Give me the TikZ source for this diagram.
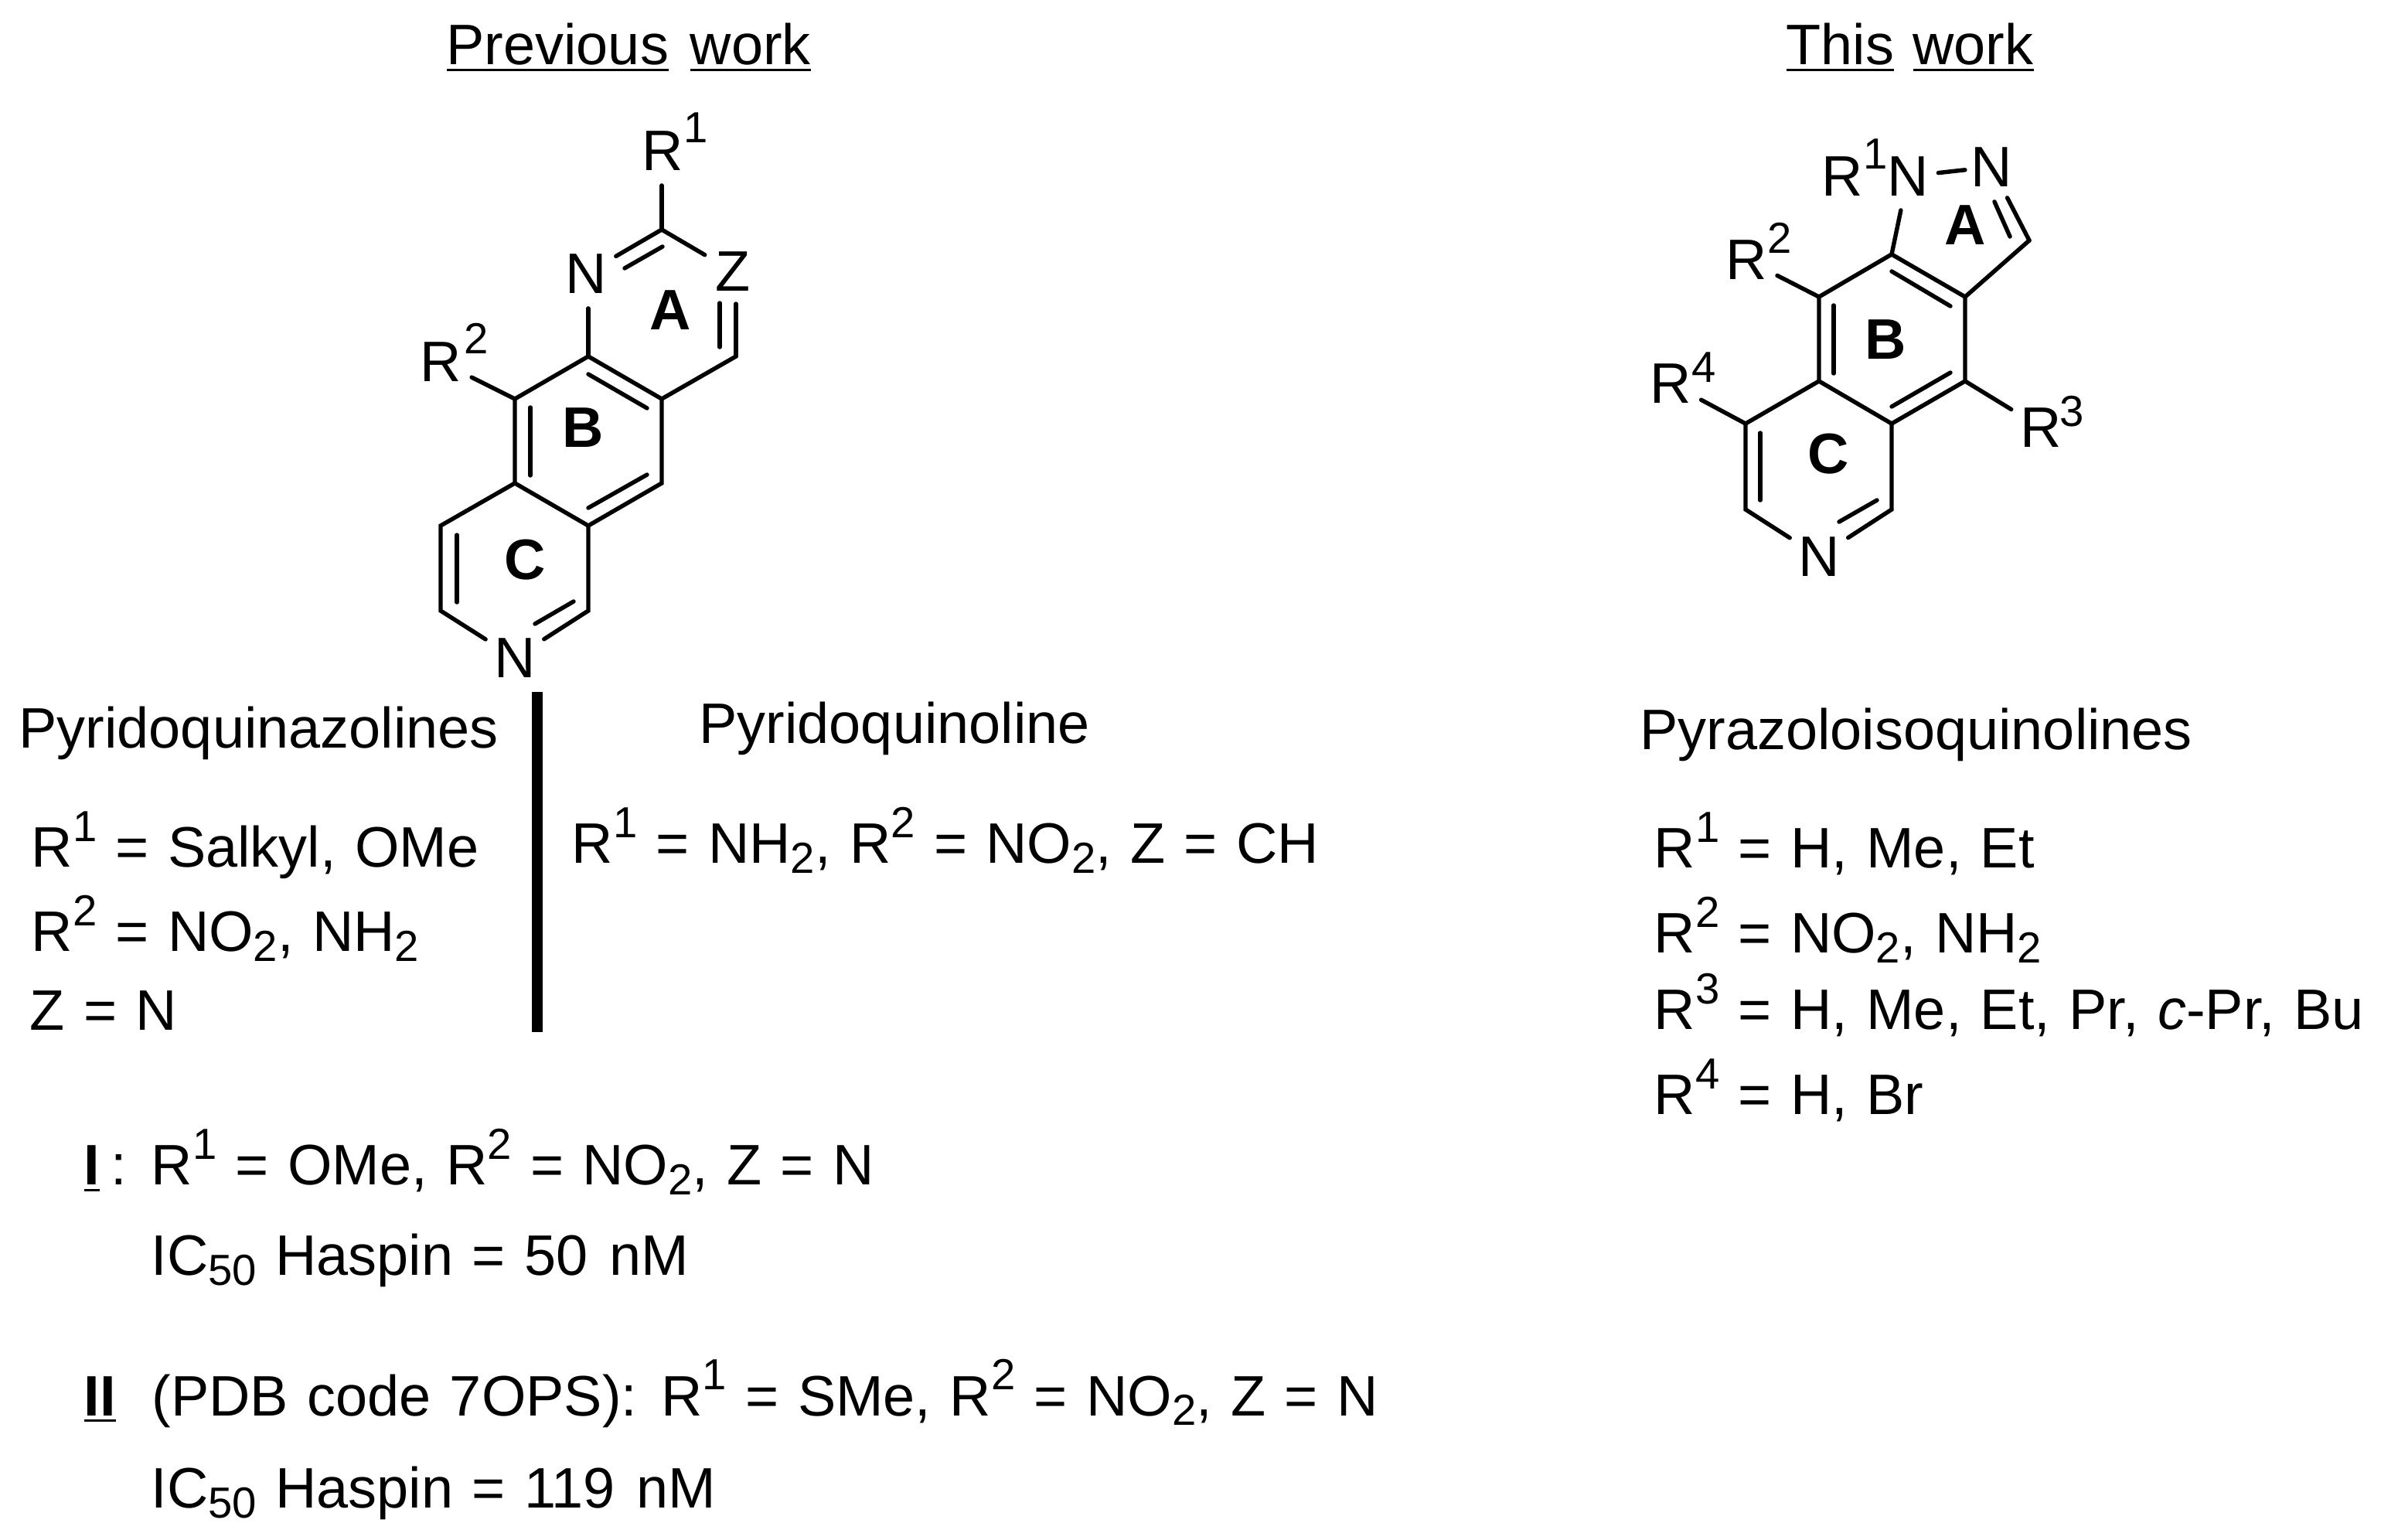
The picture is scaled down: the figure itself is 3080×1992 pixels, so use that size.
\documentclass[tikz,border=0pt]{standalone}
\usepackage{fontspec}
\setmainfont{Liberation Sans}
\usetikzlibrary{calc}

\newcommand{\upidx}[1]{\raisebox{9.5pt}{\fontsize{16}{16}\selectfont #1}}
\newcommand{\dnidx}[1]{\raisebox{-3.6pt}{\fontsize{16}{16}\selectfont #1}}
\newcommand{\ulword}[1]{\setbox0\hbox{#1}\rlap{\rule[-2.4pt]{\wd0}{1pt}}\box0\relax}

\tikzset{
  bond/.style={line width=1.55pt, line cap=round},
  divider/.style={line width=4pt},
  txt/.style={anchor=base west, inner sep=0pt, font=\fontsize{21}{25}\selectfont, execute at begin node={\spaceskip 0.33em\relax}},
  atom/.style={circle, inner sep=1.5pt, font=\fontsize{21}{25}\selectfont},
  ringname/.style={inner sep=0pt, font=\fontsize{21}{25}\selectfont\bfseries},
  atomidx/.style={inner sep=0pt, font=\fontsize{16}{16}\selectfont}
}

\begin{document}
\begin{tikzpicture}[x=0.01cm, y=-0.01cm]
  \useasboundingbox (0,0) rectangle (3080,1992);

  % Headings
  \node[txt] (prevhead) at (577,84) {\ulword{Previous}\hspace{1pt} \ulword{work}};
  \node[txt] (thishead) at (2310,84) {\ulword{This} \ulword{work}};

  % Left scaffold, ring vertices
  \coordinate (qc2) at (856,297);
  \coordinate (qc4) at (952,461);
  \coordinate (qc8a) at (761,461);
  \coordinate (qc4a) at (856,516);
  \coordinate (qc9) at (666,516);
  \coordinate (qc9a) at (666,625);
  \coordinate (qc5) at (856,625);
  \coordinate (qc5a) at (761,680);
  \coordinate (qc10) at (570,680);
  \coordinate (qc11) at (570,790);
  \coordinate (qc6) at (761,790);

  % Left scaffold, labels
  \node[atom] (qn1) at (758,354) {N};
  \node[atom] (qz) at (948,351) {Z};
  \node[atom] (qn2) at (666,851) {N};
  \node[atom] (qr1) at (857,195) {R};
  \node[atomidx] (qr1i) at (900,165) {1};
  \node[atom] (qr2) at (570,468) {R};
  \node[atomidx] (qr2i) at (616,438) {2};
  \node[ringname] (qra) at (867,401) {A};
  \node[ringname] (qrb) at (754,553) {B};
  \node[ringname] (qrc) at (679,724) {C};

  % Left scaffold, inner strokes of double bonds
  \coordinate (qd1a) at (808,347);
  \coordinate (qd1b) at (857,319);
  \coordinate (qd2a) at (931,392);
  \coordinate (qd2b) at (931,449);
  \coordinate (qd3a) at (761,484);
  \coordinate (qd3b) at (837,528);
  \coordinate (qd4a) at (686,527);
  \coordinate (qd4b) at (686,615);
  \coordinate (qd5a) at (837,614);
  \coordinate (qd5b) at (761,657);
  \coordinate (qd6a) at (591,692);
  \coordinate (qd6b) at (591,779);
  \coordinate (qd7a) at (742,778);
  \coordinate (qd7b) at (692,807);

  % Left scaffold, bonds
  \draw[bond] (qc2) -- (qc2 |- qr1.south);
  \draw[bond] (qc2) -- (qn1);
  \draw[bond] (qc2) -- (qz);
  \draw[bond] (qc4) -- (qc4 |- qz.south);
  \draw[bond] (qc8a) -- (qc8a |- qn1.south);
  \draw[bond] (qc4) -- (qc4a) -- (qc8a) -- (qc9) -- (qc9a) -- (qc5a) -- (qc5) -- (qc4a);
  \draw[bond] (qc9) -- (qr2);
  \draw[bond] (qc9a) -- (qc10) -- (qc11) -- (qn2);
  \draw[bond] (qc5a) -- (qc6) -- (qn2);
  \draw[bond] (qd1a) -- (qd1b);
  \draw[bond] (qd2a) -- (qd2b);
  \draw[bond] (qd3a) -- (qd3b);
  \draw[bond] (qd4a) -- (qd4b);
  \draw[bond] (qd5a) -- (qd5b);
  \draw[bond] (qd6a) -- (qd6b);
  \draw[bond] (qd7a) -- (qd7b);

  % Divider
  \coordinate (bartop) at (695,895);
  \coordinate (barbot) at (695,1335);
  \draw[divider] (bartop) -- (barbot);

  % Left series
  \node[txt] (quinaz) at (24,968) {Pyridoquinazolines};
  \node[txt] (quinol) at (904,962) {Pyridoquinoline};
  \node[txt] (qzone) at (40,1122) {R\upidx{1} = Salkyl, OMe};
  \node[txt] (qztwo) at (40,1231) {R\upidx{2} = NO\dnidx{2}, NH\dnidx{2}};
  \node[txt] (qzthree) at (38,1333) {Z = N};
  \node[txt] (qlone) at (739,1117) {R\upidx{1} = NH\dnidx{2}, R\upidx{2} = NO\dnidx{2}, Z = CH};

  % Lead compounds
  \node[txt] (leadi) at (108,1533) {\ulword{\textbf{I}}\hspace{4pt}:};
  \node[txt] (leadidata) at (195,1533) {R\upidx{1} = OMe, R\upidx{2} = NO\dnidx{2}, Z = N};
  \node[txt] (leadiic) at (195,1650) {IC\dnidx{50} Haspin = 50\hspace{1pt} nM};
  \node[txt] (leadii) at (108,1831) {\ulword{\textbf{II}}};
  \node[txt] (leadiidata) at (196,1831) {(PDB code 7OPS):\hspace{2pt} R\upidx{1} = SMe, R\upidx{2} = NO\dnidx{2}, Z = N};
  \node[txt] (leadiiic) at (195,1951) {IC\dnidx{50} Haspin = 119\hspace{1pt} nM};

  % Right scaffold, ring vertices
  \coordinate (pc9b) at (2447,329);
  \coordinate (pc3a) at (2542,384);
  \coordinate (pc4) at (2542,493);
  \coordinate (pc5a) at (2447,548);
  \coordinate (pc9a) at (2353,493);
  \coordinate (pc9) at (2353,384);
  \coordinate (pc8) at (2258,548);
  \coordinate (pc7) at (2258,659);
  \coordinate (pc5) at (2447,659);
  \coordinate (pc3) at (2625,311);

  % Right scaffold, labels
  \node[atom] (pn1) at (2468,228) {N};
  \node[atom] (pn2) at (2576,216) {N};
  \node[atom] (pn6) at (2353,720) {N};
  \node[atom] (pr1) at (2383,228) {R};
  \node[atomidx] (pr1i) at (2426,199) {1};
  \node[atom] (pr2) at (2259,336) {R};
  \node[atomidx] (pr2i) at (2302,308) {2};
  \node[atom] (pr3) at (2640,553) {R};
  \node[atomidx] (pr3i) at (2680,532) {3};
  \node[atom] (pr4) at (2161,496) {R};
  \node[atomidx] (pr4i) at (2204,475) {4};
  \node[ringname] (pra) at (2542,291) {A};
  \node[ringname] (prb) at (2439,439) {B};
  \node[ringname] (prc) at (2365,587) {C};

  % Right scaffold, inner strokes of double bonds
  \coordinate (pd1a) at (2580,261);
  \coordinate (pd1b) at (2600,306);
  \coordinate (pd2a) at (2447,351);
  \coordinate (pd2b) at (2523,396);
  \coordinate (pd3a) at (2523,482);
  \coordinate (pd3b) at (2447,526);
  \coordinate (pd4a) at (2372,395);
  \coordinate (pd4b) at (2372,483);
  \coordinate (pd5a) at (2277,560);
  \coordinate (pd5b) at (2277,647);
  \coordinate (pd6a) at (2428,647);
  \coordinate (pd6b) at (2379,675);

  % Right scaffold, bonds
  \draw[bond] (pc9b) -- (pn1);
  \draw[bond, shorten <=-1.5pt, shorten >=-3pt] (pn1) -- (pn2);
  \draw[bond] (pc3) -- (pn2);
  \draw[bond] (pc3) -- (pc3a) -- (pc9b) -- (pc9) -- (pc9a) -- (pc5a) -- (pc4) -- (pc3a);
  \draw[bond] (pc9) -- (pr2);
  \draw[bond] (pc4) -- (pr3);
  \draw[bond] (pc8) -- (pr4);
  \draw[bond] (pc9a) -- (pc8) -- (pc7) -- (pn6);
  \draw[bond] (pc5a) -- (pc5) -- (pn6);
  \draw[bond] (pd1a) -- (pd1b);
  \draw[bond] (pd2a) -- (pd2b);
  \draw[bond] (pd3a) -- (pd3b);
  \draw[bond] (pd4a) -- (pd4b);
  \draw[bond] (pd5a) -- (pd5b);
  \draw[bond] (pd6a) -- (pd6b);

  % Right series
  \node[txt] (pyraz) at (2121,970) {Pyrazoloisoquinolines};
  \node[txt] (pzone) at (2139,1123) {R\upidx{1} = H, Me, Et};
  \node[txt] (pztwo) at (2139,1233) {R\upidx{2} = NO\dnidx{2}, NH\dnidx{2}};
  \node[txt] (pzthree) at (2139,1332) {R\upidx{3} = H, Me, Et, Pr, \textit{c}-Pr, Bu};
  \node[txt] (pzfour) at (2139,1442) {R\upidx{4} = H, Br};
\end{tikzpicture}
\end{document}
